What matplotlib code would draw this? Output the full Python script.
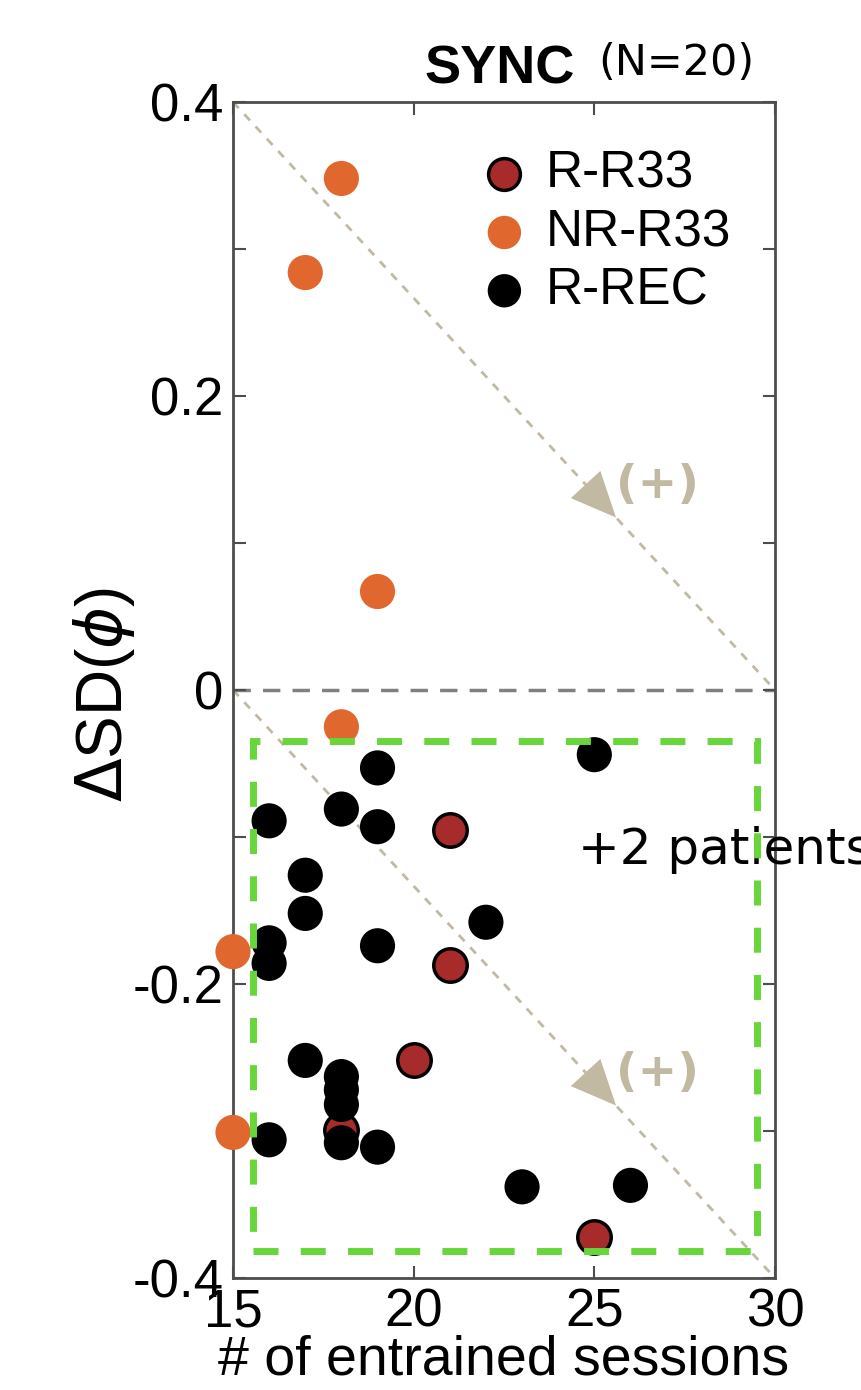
import numpy as np
import matplotlib
matplotlib.use("Agg")
import matplotlib.pyplot as plt
from matplotlib.patches import Rectangle

# sessions (x) and change in SD(phi) (y) per group
r_r33_x = [21, 21, 20, 18, 25]
r_r33_y = [-0.095, -0.187, -0.252, -0.299, -0.372]

nr_r33_x = [18, 17, 19, 18, 15, 15]
nr_r33_y = [0.348, 0.284, 0.067, -0.025, -0.178, -0.301]

r_rec_x = [25, 19, 18, 19, 16, 17, 17, 22, 19, 16, 16, 17, 18, 18, 18, 18, 16, 19, 23, 26]
r_rec_y = [-0.044, -0.053, -0.081, -0.093, -0.089, -0.126, -0.152, -0.158, -0.174, -0.172,
           -0.186, -0.252, -0.263, -0.272, -0.282, -0.308, -0.306, -0.311, -0.338, -0.337]

xticks = [15, 20, 25, 30]
yticks = [-0.4, -0.3, -0.2, -0.1, 0, 0.1, 0.2, 0.3, 0.4]
ylabels = ["-0.4", "", "-0.2", "", "0", "", "0.2", "", "0.4"]

orange = "#e0672d"
darkred = "#a82b2b"
tan = "#c2b9a2"
green = "#66d63a"
spine_c = "#4d4d4d"

plt.rcParams["font.family"] = ["Liberation Sans", "DejaVu Sans"]

fig = plt.figure(figsize=(8.61, 13.9), dpi=100)
ax = fig.add_axes([0.2706, 0.0806, 0.6295, 0.846])

# diagonal guides
ax.plot([15, 30], [0.4, 0], color=tan, lw=2, ls=(0, (3, 3)), zorder=1)
ax.plot([15, 30], [0, -0.4], color=tan, lw=2, ls=(0, (3, 3)), zorder=1)
for y0 in [0.4, 0]:
    xt = 25.6
    yt = y0 - 0.4 * (xt - 15) / 15
    xs = xt - 0.8
    ys = y0 - 0.4 * (xs - 15) / 15
    ax.annotate("", xy=(xt, yt), xytext=(xs, ys),
                arrowprops=dict(arrowstyle="-|>,head_length=0.85,head_width=0.38",
                                mutation_scale=38, color=tan, lw=0, shrinkA=0, shrinkB=0),
                zorder=2)
    ax.text(26.75, yt + 0.022, "(+)", color=tan, fontsize=34, fontweight="bold",
            family="DejaVu Sans", ha="center", va="center")

ax.axhline(0, color="#808080", lw=2.5, ls=(0, (5, 3.5)), zorder=1)

ax.scatter(r_r33_x, r_r33_y, s=580, color=darkred, edgecolor="black", linewidth=2.5,
           label="R-R33", zorder=3)
ax.scatter(nr_r33_x, nr_r33_y, s=640, color=orange, edgecolor="none",
           label="NR-R33", zorder=4, clip_on=False)
ax.scatter(r_rec_x, r_rec_y, s=640, color="black", edgecolor="none",
           label="R-REC", zorder=5)

ax.add_patch(Rectangle((15.55, -0.3816), 13.95, 0.3469, fill=False, edgecolor=green,
                       lw=5, ls=(0, (3.6, 3.2)), zorder=6))

ax.text(24.55, -0.109, "+2 patients", fontsize=36, family="DejaVu Sans",
        ha="left", va="center", clip_on=False)

ax.set_xlim(15, 30)
ax.set_ylim(-0.4, 0.4)
ax.set_xticks(xticks)
ax.set_xticklabels([str(t) for t in xticks])
ax.set_yticks(yticks)
ax.set_yticklabels(ylabels)
ax.tick_params(direction="in", length=9, width=1.5, color=spine_c, labelsize=38,
               top=True, right=True, pad=7)
for sp in ax.spines.values():
    sp.set_color(spine_c)
    sp.set_linewidth(2)

ax.set_xlabel("# of entrained sessions", fontsize=40)
ax.xaxis.set_label_coords(0.5, -0.048)
ax.set_ylabel(r"$\Delta$SD($\phi$)", fontsize=46)
ax.yaxis.set_label_coords(-0.178, 0.496)

leg = ax.legend(loc="upper right", bbox_to_anchor=(0.985, 0.99), frameon=False,
                fontsize=37, handletextpad=-0.2, labelspacing=0.18, borderpad=0.2,
                markerscale=0.95)

fig.text(0.4936, 0.940, "SYNC", fontsize=39, fontweight="bold", ha="left", va="baseline")
fig.text(0.6945, 0.946, "(N=20)", fontsize=31, family="DejaVu Sans", ha="left", va="baseline")

fig.savefig("out.png", dpi=100)
